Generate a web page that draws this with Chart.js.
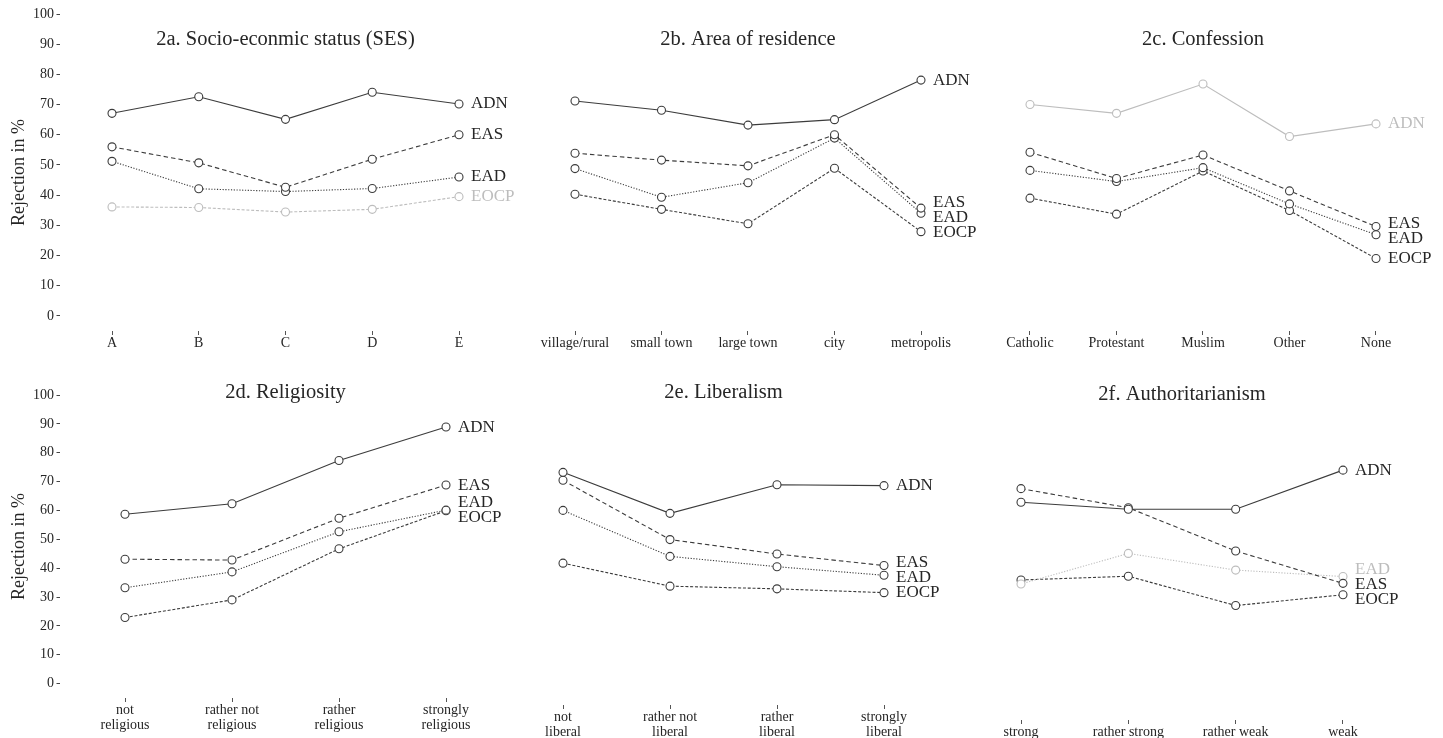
<!DOCTYPE html>
<html>
<head>
<meta charset="utf-8">
<script src="https://cdn.jsdelivr.net/npm/chart.js@4.4.1/dist/chart.umd.min.js"></script>
<style>
  body { margin: 0; background: #fff; width: 1443px; height: 738px; overflow: hidden; position: relative; }
  canvas { position: absolute; }
</style>
</head>
<body>
<canvas id="p2a"></canvas>
<canvas id="p2b"></canvas>
<canvas id="p2c"></canvas>
<canvas id="p2d"></canvas>
<canvas id="p2e"></canvas>
<canvas id="p2f"></canvas>
<script>
// series and ticks
const seriesNames = ['ADN', 'EAS', 'EAD', 'EOCP'];
const yTicks = [0, 10, 20, 30, 40, 50, 60, 70, 80, 90, 100];

// 2a. Socio-economic status
const sesCats = ['A', 'B', 'C', 'D', 'E'];
const sesADN = [67.1, 72.6, 65.1, 74.1, 70.2];
const sesEAS = [56.0, 50.7, 42.6, 51.9, 60.0];
const sesEAD = [51.2, 42.1, 41.2, 42.2, 46.0];
const sesEOCP = [36.1, 35.9, 34.4, 35.3, 39.5];

// 2b. Area of residence
const areaCats = ['village/rural', 'small town', 'large town', 'city', 'metropolis'];
const areaADN = [71.2, 68.1, 63.2, 65.0, 78.1];
const areaEAS = [53.9, 51.6, 49.7, 60.0, 35.7];
const areaEAD = [48.8, 39.3, 44.1, 58.9, 34.0];
const areaEOCP = [40.3, 35.3, 30.5, 48.9, 27.9];

// 2c. Confession
const confCats = ['Catholic', 'Protestant', 'Muslim', 'Other', 'None'];
const confADN = [70.0, 67.1, 76.8, 59.4, 63.6];
const confEAS = [54.2, 45.5, 53.3, 41.4, 29.6];
const confEAD = [48.2, 44.5, 49.1, 37.1, 26.9];
const confEOCP = [39.0, 33.7, 48.0, 34.9, 19.0];

// 2d. Religiosity
const relCats = [['not', 'religious'], ['rather not', 'religious'], ['rather', 'religious'], ['strongly', 'religious']];
const relADN = [58.7, 62.3, 77.3, 88.9];
const relEAS = [43.1, 42.8, 57.3, 68.8];
const relEAD = [33.2, 38.7, 52.6, 60.1];
const relEOCP = [22.9, 29.0, 46.7, 59.9];

// 2e. Liberalism
const libCats = [['not', 'liberal'], ['rather not', 'liberal'], ['rather', 'liberal'], ['strongly', 'liberal']];
const libADN = [73.9, 60.0, 69.7, 69.4];
const libEAS = [71.2, 51.1, 46.2, 42.3];
const libEAD = [61.0, 45.4, 41.9, 39.0];
const libEOCP = [43.1, 35.3, 34.4, 33.1];

// 2f. Authoritarianism
const authCats = ['strong', 'rather strong', 'rather weak', 'weak'];
const authADN = [65.6, 63.3, 63.3, 76.0];
const authEAS = [70.0, 63.8, 49.8, 39.3];
const authEAD = [39.1, 49.0, 43.6, 41.5];
const authEOCP = [40.4, 41.6, 32.1, 35.6];

// styles
const serif = '"Liberation Serif", "Times New Roman", serif';
const textColor = '#262626';
const darkColor = '#3c3c3c';
const greyColor = '#bdbdbd';
const dashes = [[], [4.5, 3], [1.2, 1.6], [3, 1.8]];
const yAxisWidth = 60;
const labelGap = 15;
const labelOffset = 12;

const panels = [
  { id: 'p2a', title: '2a. Socio-econmic status (SES)', cats: sesCats, values: [sesADN, sesEAS, sesEAD, sesEOCP], grey: 'EOCP', yAxis: true,
    box: { left: 0, width: 540, canvasTop: 0, top: 14, bottom: 331, xh: 29, firstX: 112, lastX: 459, titleY: 40 } },
  { id: 'p2b', title: '2b. Area of residence', cats: areaCats, values: [areaADN, areaEAS, areaEAD, areaEOCP], grey: null, yAxis: false,
    box: { left: 500, width: 500, canvasTop: 0, top: 14, bottom: 331, xh: 29, firstX: 575, lastX: 921, titleY: 40 } },
  { id: 'p2c', title: '2c. Confession', cats: confCats, values: [confADN, confEAS, confEAD, confEOCP], grey: 'ADN', yAxis: false,
    box: { left: 960, width: 483, canvasTop: 0, top: 14, bottom: 331, xh: 29, firstX: 1030, lastX: 1376, titleY: 40 } },
  { id: 'p2d', title: '2d. Religiosity', cats: relCats, values: [relADN, relEAS, relEAD, relEOCP], grey: null, yAxis: true,
    box: { left: 0, width: 540, canvasTop: 370, top: 395, bottom: 698, xh: 40, firstX: 125, lastX: 446, titleY: 393 } },
  { id: 'p2e', title: '2e. Liberalism', cats: libCats, values: [libADN, libEAS, libEAD, libEOCP], grey: null, yAxis: false,
    box: { left: 500, width: 500, canvasTop: 370, top: 395.4, bottom: 705, xh: 40, firstX: 563, lastX: 884, titleY: 393 } },
  { id: 'p2f', title: '2f. Authoritarianism', cats: authCats, values: [authADN, authEAS, authEAD, authEOCP], grey: 'EAD', yAxis: false,
    box: { left: 960, width: 483, canvasTop: 370, top: 396.1, bottom: 720, xh: 40, firstX: 1021, lastX: 1343, titleY: 395 } }
];

// panel title + direct labels at the line ends
const endLabels = {
  id: 'endLabels',
  afterDatasetsDraw(chart, args, o) {
    const ctx = chart.ctx;
    ctx.save();
    ctx.font = '20.5px ' + serif;
    ctx.fillStyle = textColor;
    ctx.textAlign = 'center';
    ctx.textBaseline = 'middle';
    ctx.fillText(o.title, chart.scales.x.getPixelForValue((o.n - 1) / 2), o.titleY);

    const items = chart.data.datasets.map((ds, i) => {
      const pt = chart.getDatasetMeta(i).data[ds.data.length - 1];
      return { text: ds.label, x: pt.x + labelOffset, y: pt.y, color: ds.borderColor === greyColor ? greyColor : textColor };
    }).sort((a, b) => a.y - b.y);
    for (let k = 0; k < 60; k++) {
      for (let j = 1; j < items.length; j++) {
        const gap = items[j].y - items[j - 1].y;
        if (gap < labelGap) {
          const d = (labelGap - gap) / 2;
          items[j - 1].y -= d;
          items[j].y += d;
        }
      }
    }
    ctx.font = '17px ' + serif;
    ctx.textAlign = 'left';
    items.forEach(it => {
      ctx.fillStyle = it.color;
      ctx.fillText(it.text, it.x, it.y);
    });
    ctx.restore();
  }
};

function drawPanel(p) {
  const b = p.box;
  const canvas = document.getElementById(p.id);
  const h = Math.round(b.bottom - b.canvasTop + b.xh);
  canvas.style.left = b.left + 'px';
  canvas.style.top = b.canvasTop + 'px';
  canvas.style.width = b.width + 'px';
  canvas.style.height = h + 'px';
  canvas.width = b.width;
  canvas.height = h;

  const n = p.cats.length;
  const areaLeft = p.yAxis ? yAxisWidth : 0;
  const step = (b.lastX - b.firstX) / (n - 1);
  const xMin = -((b.firstX - b.left) - areaLeft) / step;
  const xMax = (n - 1) + (b.width - (b.lastX - b.left)) / step;

  new Chart(canvas, {
    type: 'line',
    data: {
      datasets: seriesNames.map((name, i) => {
        const color = name === p.grey ? greyColor : darkColor;
        return {
          label: name,
          data: p.values[i].map((v, j) => ({ x: j, y: v })),
          borderColor: color,
          borderWidth: 1.1,
          borderDash: dashes[i],
          pointRadius: 4,
          pointHoverRadius: 4,
          pointBackgroundColor: '#fff',
          pointBorderColor: color,
          pointBorderWidth: 1.1,
          tension: 0,
          fill: false
        };
      })
    },
    options: {
      responsive: false,
      animation: false,
      events: [],
      layout: { autoPadding: false, padding: { top: b.top - b.canvasTop, left: 0, right: 0, bottom: 0 } },
      plugins: {
        legend: { display: false },
        tooltip: { enabled: false },
        endLabels: { title: p.title, n: n, titleY: b.titleY - b.canvasTop }
      },
      scales: {
        x: {
          type: 'linear',
          min: xMin,
          max: xMax,
          afterBuildTicks: s => { s.ticks = p.cats.map((c, j) => ({ value: j })); },
          afterFit: s => { s.height = b.xh; },
          ticks: {
            autoSkip: false,
            maxRotation: 0,
            padding: 1,
            color: textColor,
            font: { family: serif, size: 14, lineHeight: 1.05 },
            callback: v => p.cats[v]
          },
          grid: { drawOnChartArea: false, drawTicks: true, tickLength: 4, tickColor: '#555', lineWidth: 1 },
          border: { display: false }
        },
        y: {
          display: p.yAxis,
          min: -5,
          max: 100,
          afterBuildTicks: s => { s.ticks = yTicks.map(v => ({ value: v })); },
          afterFit: s => { if (p.yAxis) s.width = yAxisWidth; },
          ticks: { padding: 2.5, color: textColor, font: { family: serif, size: 14 } },
          grid: { drawOnChartArea: false, drawTicks: true, tickLength: 3.5, tickColor: '#444', lineWidth: 1 },
          border: { display: false },
          title: { display: true, text: 'Rejection in %', color: textColor, font: { family: serif, size: 18 }, padding: { top: 8, bottom: 0 } }
        }
      }
    },
    plugins: [endLabels]
  });
}

panels.forEach(drawPanel);
</script>
</body>
</html>
